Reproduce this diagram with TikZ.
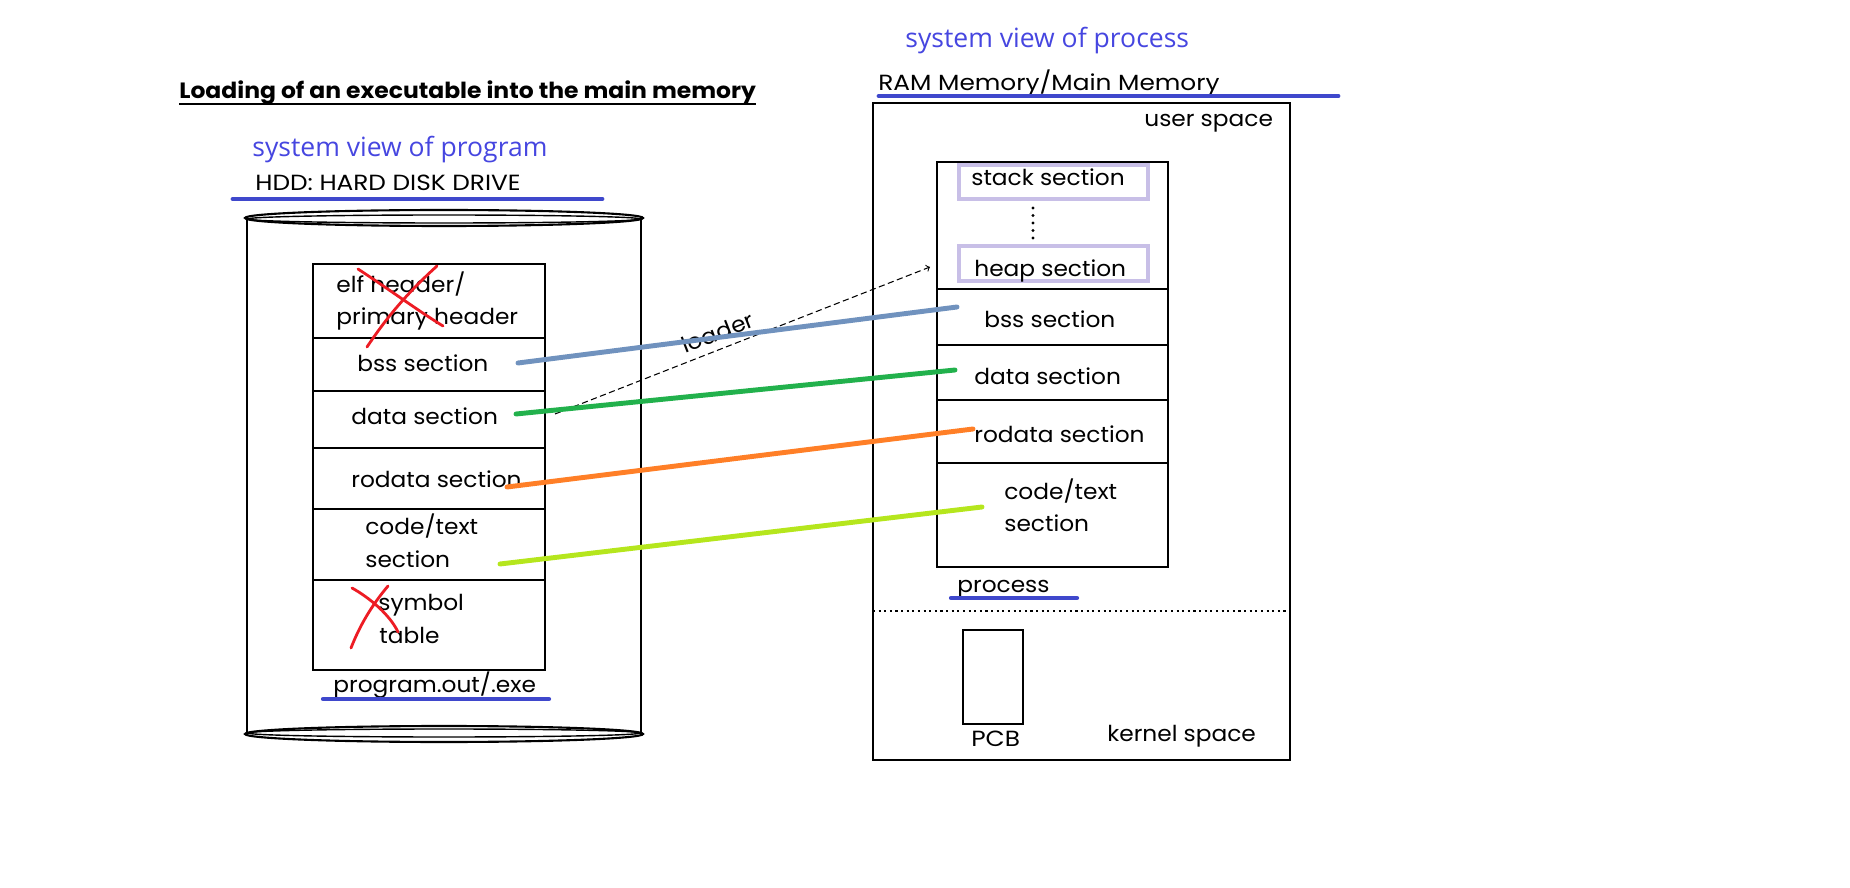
\documentclass[tikz,border=0pt]{standalone}
\usepackage{fontspec}
\setmainfont{Poppins}[FakeStretch=1.06]
\newfontfamily\capsfont{Poppins}[FakeStretch=1.13]
\newfontfamily\viewfont{Open Sans}
\usetikzlibrary{arrows, positioning}
\definecolor{penblue}{HTML}{3F48CC}
\definecolor{viewblue}{HTML}{4646E0}
\definecolor{bsspen}{HTML}{7092BE}
\definecolor{datapen}{HTML}{22B14C}
\definecolor{rodatapen}{HTML}{FF7F27}
\definecolor{codepen}{HTML}{B5E61D}
\definecolor{lavender}{HTML}{C8BFE7}
\definecolor{penred}{HTML}{ED1C24}

\begin{document}
\begin{tikzpicture}[x=0.02cm, y=-0.02cm]
\tikzstyle{lbl} = [anchor=base west, inner sep=0pt, font=\fontsize{12.5}{15}\selectfont]
\tikzstyle{caps} = [lbl, font=\capsfont\fontsize{12.5}{15}\selectfont]
\tikzstyle{viewlbl} = [anchor=base west, inner sep=0pt, text=viewblue, font=\viewfont\fontsize{15.1}{17}\selectfont]
\tikzstyle{frame} = [draw, line width=1.2pt]
\tikzstyle{divider} = [line width=0.7pt]
\tikzstyle{marker} = [line width=2.8pt, line cap=round]
\tikzstyle{stroke} = [line width=1.6pt, line cap=round, penred]
\tikzstyle{segbox} = [draw=lavender, line width=2.3pt]

\useasboundingbox (0,0) rectangle (1850,888);

% titles
\node (title) [lbl, font=\bfseries\fontsize{12.6}{14}\selectfont] at (179,99) {Loading of an executable into the main memory};
\draw[line width=1pt] ([yshift=-3pt]title.base west) -- ([yshift=-3pt]title.base east);
\node (progview) [viewlbl] at (252,157) {system view of program};
\node (procview) [viewlbl] at (905,48) {system view of process};

% hard disk
\node (hdd) [caps] at (255,191) {HDD: HARD DISK DRIVE};
\draw[marker, penblue] (233,199) -- (602,199);
\draw[frame] (247,218) -- (247,734);
\draw[frame] (641,218) -- (641,734);
\draw[frame] (444,218) ellipse [x radius=199, y radius=8];
\draw[line width=0.8pt] (444,219) ellipse [x radius=196, y radius=4];
\draw[frame] (444,734) ellipse [x radius=199, y radius=8];
\draw[line width=0.8pt] (444,733) ellipse [x radius=196, y radius=4];

\draw[frame] (313,264) rectangle (545,670);
\foreach \y in {338,391,448,509,580}
  \draw[divider] (313,\y) -- (545,\y);

\node (elf) [lbl] at (336,293) {elf header/};
\node (primary) [lbl] at (336,325) {primary header};
\node (hbss) [lbl] at (357,372) {bss section};
\node (hdata) [lbl] at (351,425) {data section};
\node (hrodata) [lbl] at (351,488) {rodata section};
\node (hcode) [lbl] at (365,535) {code/text};
\node (hcode2) [lbl] at (365,567) {section};
\node (symbol) [lbl] at (378,610) {symbol};
\node (table) [lbl] at (379,643) {table};
\node (exe) [lbl] at (333,692) {program.out/.exe};
\draw[marker, penblue, line width=2.4pt] (323,699) -- (549,699);

% crossed out
\draw[stroke] (358,269) .. controls (390,290) and (420,312) .. (443,326);
\draw[stroke] (437,266) .. controls (405,295) and (385,320) .. (367,347);
\draw[stroke] (352,588) .. controls (370,598) and (390,615) .. (398,632);
\draw[stroke] (388,586) .. controls (372,605) and (360,625) .. (351,648);

% main memory
\node (ram) [caps] at (878,91) {RAM Memory/Main Memory};
\draw[marker, penblue] (879,96) -- (1338,96);
\draw[frame] (873,103) rectangle (1290,760);
\node (user) [lbl] at (1144,127) {user space};

\draw[frame] (937,162) rectangle (1168,567);
\foreach \y in {289,345,400,463}
  \draw[divider] (937,\y) -- (1168,\y);
\draw[segbox] (959,165) rectangle (1148,199);
\draw[segbox] (959,246) rectangle (1148,281);
\node (stack) [lbl] at (971,186) {stack section};
\node (heap) [lbl] at (974,277) {heap section};
\foreach \y in {208,215.5,...,238}
  \fill (1033,\y) circle [radius=1.6];
\node (pbss) [lbl] at (984,328) {bss section};
\node (pdata) [lbl] at (974,385) {data section};
\node (prodata) [lbl] at (974,443) {rodata section};
\node (pcode) [lbl] at (1004,500) {code/text};
\node (pcode2) [lbl] at (1004,532) {section};

\node (process) [lbl] at (957,592) {process};
\draw[marker, penblue, line width=2.4pt] (951,598) -- (1077,598);
\draw[line width=1.2pt, dotted] (873,611) -- (1290,611);

\draw[frame] (963,630) rectangle (1023,724);
\node (pcb) [caps] at (971,746) {PCB};
\node (kernel) [lbl] at (1107,741) {kernel space};

% loader and mappings
\coordinate (ldfrom) at (555,414);
\coordinate (ldto) at (930,267);
\draw[->, line width=0.6pt, dash pattern=on 3.5pt off 2pt] (ldfrom) -- (ldto)
  node[pos=0.45, above, sloped, inner sep=4.5pt, font=\fontsize{12.5}{15}\selectfont] (loader) {loader};

\coordinate (bssA) at (518,363);   \coordinate (bssB) at (957,307);
\coordinate (dataA) at (516,414);  \coordinate (dataB) at (955,370);
\coordinate (rodataA) at (507,487); \coordinate (rodataB) at (973,429);
\coordinate (codeA) at (500,564);  \coordinate (codeB) at (982,507);
\draw[marker, bsspen] (bssA) -- (bssB);
\draw[marker, datapen] (dataA) -- (dataB);
\draw[marker, rodatapen] (rodataA) -- (rodataB);
\draw[marker, codepen] (codeA) -- (codeB);

\end{tikzpicture}
\end{document}
